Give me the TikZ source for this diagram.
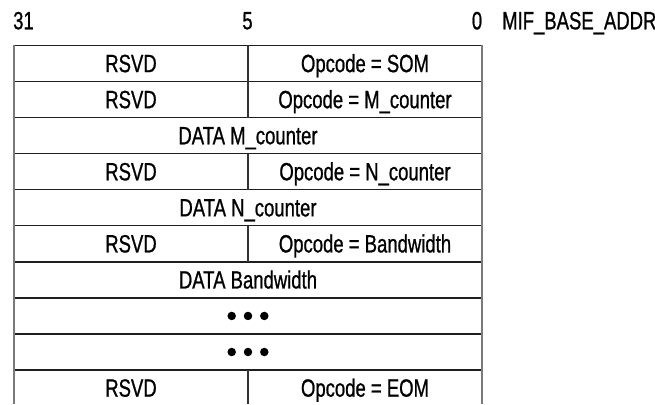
\documentclass[tikz,border=0pt]{standalone}
\usepackage{fontspec}
\setmainfont[FakeStretch=0.74,FakeBold=0.8]{Liberation Sans}
\begin{document}
\begin{tikzpicture}[x=1pt,y=-1pt,
  txt/.style={inner sep=0pt,anchor=base,font=\fontsize{25}{29}\selectfont},
  hline/.style={draw=black!88,line width=1.3pt},
  vouter/.style={draw=black!52,line width=2.2pt},
  vinner/.style={draw=black!80,line width=1.4pt},
  dot/.style={circle,fill=black,inner sep=0pt,minimum size=8.5pt}]
\useasboundingbox (0,0) rectangle (655,404);
\def\rowh{36.06}
\def\ytop{45.5}
% header
\node[txt,anchor=base west] (b31) at (13,29.3) {31};
\node[txt] (b5) at (247.5,29.3) {5};
\node[txt] (b0) at (477,29.3) {0};
\node[txt,anchor=base west] (base) at (502,29.3) {MIF\_BASE\_ADDR};
% horizontal lines
\foreach \k in {0,...,9}{
  \draw[hline] (14,{\ytop+\rowh*\k}) -- (482,{\ytop+\rowh*\k});
}
% outer verticals
\draw[vouter] (14,\ytop) -- (14,404);
\draw[vouter] (482,\ytop) -- (482,404);
% inner dividers
\foreach \k in {0,1,3,5}{
  \draw[vinner] (248,{\ytop+\rowh*\k}) -- (248,{\ytop+\rowh*(\k+1)});
}
\draw[vinner] (248,{\ytop+\rowh*9}) -- (248,404);
% row texts (baseline = row centre + 8.3)
\def\bl#1{{\ytop+\rowh*(#1+0.5)+8.6}}
\node[txt] (r0l) at (131,\bl{0}) {RSVD};
\node[txt] (r0r) at (365,\bl{0}) {Opcode = SOM};
\node[txt] (r1l) at (131,\bl{1}) {RSVD};
\node[txt] (r1r) at (365,\bl{1}) {Opcode = M\_counter};
\node[txt] (r2) at (248,\bl{2}) {DATA M\_counter};
\node[txt] (r3l) at (131,\bl{3}) {RSVD};
\node[txt] (r3r) at (365,\bl{3}) {Opcode = N\_counter};
\node[txt] (r4) at (248,\bl{4}) {DATA N\_counter};
\node[txt] (r5l) at (131,\bl{5}) {RSVD};
\node[txt] (r5r) at (365,\bl{5}) {Opcode = Bandwidth};
\node[txt] (r6) at (248,\bl{6}) {DATA Bandwidth};
\foreach \k in {7,8}{
  \node[dot] (d\k a) at (231.7,{\ytop+\rowh*(\k+0.5)}) {};
  \node[dot] (d\k b) at (248,{\ytop+\rowh*(\k+0.5)}) {};
  \node[dot] (d\k c) at (264.3,{\ytop+\rowh*(\k+0.5)}) {};
}
\node[txt] (r9l) at (131,\bl{9}) {RSVD};
\node[txt] (r9r) at (365,\bl{9}) {Opcode = EOM};
\end{tikzpicture}
\end{document}
